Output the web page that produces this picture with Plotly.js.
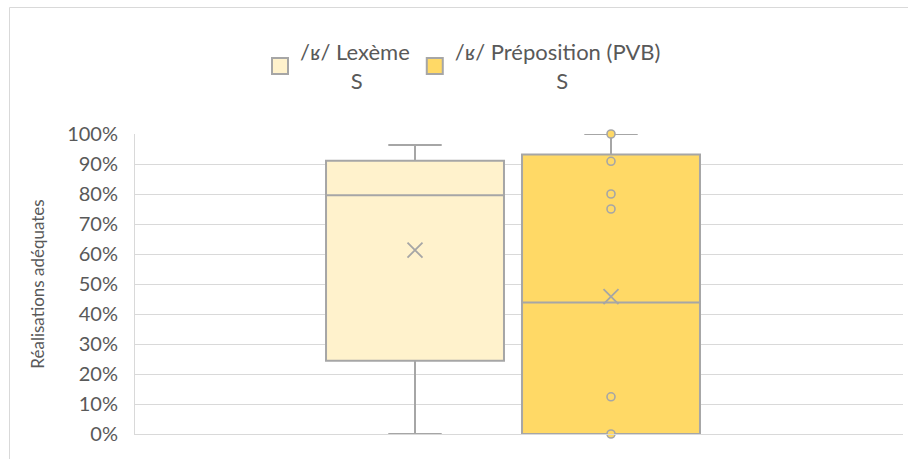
<!DOCTYPE html>
<html>
<head>
<meta charset="utf-8">
<script src="https://cdn.plot.ly/plotly-3.0.1.min.js"></script>
<style>
  html, body { margin: 0; padding: 0; background: #ffffff; }
  #chart { width: 908px; height: 459px; }
</style>
</head>
<body>
<div id="chart"></div>
<script>
// ---- Data ----
const categories = ["Lexèmes", "Préposition (PVB)"];
const legendNames = [
  "/ʁ/ Lexème<br>" + "\u00A0".repeat(9) + "S",
  "/ʁ/ Préposition (PVB)<br>" + "\u00A0".repeat(18) + "S"
];
const q1Values = [0.244, 0.0];
const medianValues = [0.796, 0.438];
const q3Values = [0.911, 0.932];
const lowerWhiskers = [0.0, 0.0];
const upperWhiskers = [0.963, 1.0];
const meanValues = [0.613, 0.458];
const prepositionPoints = [1.0, 0.909, 0.80, 0.75, 0.124, 0.0];
const yTickValues = [0, 0.1, 0.2, 0.3, 0.4, 0.5, 0.6, 0.7, 0.8, 0.9, 1.0];

// ---- Styles ----
const fills = ["#FFF2CC", "#FFD966"];
const grey = "#A6A6A6";
const textColor = "#595959";
const fontFamily = "Lato, 'Open Sans', sans-serif";

const traces = [];
categories.forEach((cat, i) => {
  traces.push({
    type: "box",
    name: legendNames[i],
    legendgroup: cat,
    showlegend: false,
    x: [cat],
    q1: [q1Values[i]],
    median: [medianValues[i]],
    q3: [q3Values[i]],
    lowerfence: [lowerWhiskers[i]],
    upperfence: [upperWhiskers[i]],
    fillcolor: fills[i],
    line: { color: grey, width: 2 },
    whiskerwidth: 0.3,
    boxpoints: false,
    hoverinfo: "skip"
  });
});

// legend entries (square swatches, as in the original legend)
categories.forEach((cat, i) => {
  traces.push({
    type: "scatter",
    mode: "markers",
    name: legendNames[i],
    legendgroup: cat,
    x: [null],
    y: [null],
    marker: { symbol: "square", size: 16, color: fills[i], line: { color: grey, width: 2 } },
    hoverinfo: "skip"
  });
});

// mean markers (X)
traces.push({
  type: "scatter",
  mode: "markers",
  x: categories,
  y: meanValues,
  marker: { symbol: "x-thin-open", size: 15, line: { color: grey, width: 1.8 }, color: grey },
  showlegend: false,
  hoverinfo: "skip",
  cliponaxis: false
});

// inner points of the Préposition series
traces.push({
  type: "scatter",
  mode: "markers",
  x: prepositionPoints.map(() => categories[1]),
  y: prepositionPoints,
  marker: { symbol: "circle", size: 8, color: fills[1], line: { color: grey, width: 1.6 } },
  showlegend: false,
  hoverinfo: "skip",
  cliponaxis: false
});

const plotLeft = 135, plotRight = 903, plotTop = 134, plotBottom = 434;
const pw = plotRight - plotLeft, ph = plotBottom - plotTop;
const px = v => (v - plotLeft) / pw;
const py = v => (plotBottom - v) / ph;

const layout = {
  width: 908,
  height: 459,
  paper_bgcolor: "#ffffff",
  plot_bgcolor: "#ffffff",
  margin: { l: plotLeft, r: 908 - plotRight, t: plotTop, b: 459 - plotBottom, pad: 0 },
  font: { family: fontFamily, color: textColor },
  boxmode: "overlay",
  boxgap: 0.092,
  boxgroupgap: 0,
  showlegend: true,
  legend: {
    orientation: "h",
    x: px(260),
    xanchor: "left",
    y: py(31),
    yanchor: "top",
    font: { size: 22, color: textColor, family: fontFamily },
    bgcolor: "rgba(0,0,0,0)",
    valign: "middle",
    itemsizing: "trace",
    traceorder: "normal"
  },
  xaxis: {
    type: "category",
    range: [-(415 - plotLeft) / 196, (plotRight - 415) / 196],
    showticklabels: false,
    showgrid: false,
    zeroline: false,
    showline: true,
    linecolor: "#D9D9D9",
    linewidth: 1,
    ticks: "",
    fixedrange: true
  },
  yaxis: {
    range: [0, 1],
    tickvals: yTickValues,
    tickformat: ".0%",
    tickfont: { size: 20, color: textColor, family: fontFamily },
    ticks: "",
    ticklabelstandoff: 12,
    showgrid: true,
    gridcolor: "#D9D9D9",
    gridwidth: 1,
    zeroline: false,
    showline: true,
    linecolor: "#D9D9D9",
    linewidth: 1,
    title: {
      text: "Réalisations adéquates",
      font: { size: 17, color: textColor, family: fontFamily },
      standoff: 18
    },
    automargin: false,
    fixedrange: true
  },
  shapes: [
    {
      type: "rect",
      xref: "paper", yref: "paper",
      x0: px(9.5), x1: px(915),
      y0: py(465), y1: py(7.5),
      line: { color: "#D9D9D9", width: 1 },
      fillcolor: "rgba(0,0,0,0)",
      layer: "below"
    }
  ]
};

Plotly.newPlot("chart", traces, layout, { staticPlot: true, displayModeBar: false });
</script>
</body>
</html>
